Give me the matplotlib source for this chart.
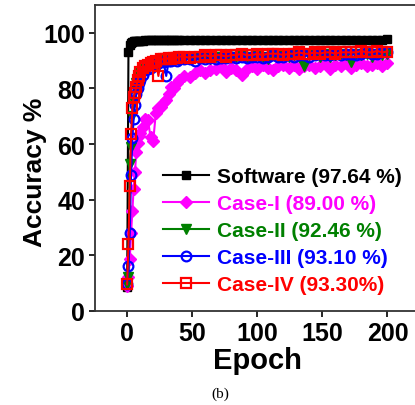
import matplotlib
matplotlib.use("Agg")
import matplotlib.pyplot as plt

epochs = (list(range(0, 11)) + list(range(12, 41, 2)) + list(range(44, 201, 4)))

software = [8.5, 93.0, 95.5, 96.3, 96.7, 96.9, 97.0, 97.1, 97.1, 97.2, 97.2,
            97.2, 97.3, 97.3, 97.3, 97.4, 97.4, 97.4, 97.4, 97.4, 97.5, 97.5, 97.5, 97.5, 97.5, 97.5,
            97.5, 97.5, 97.6, 97.5, 97.6, 97.6, 97.5, 97.6, 97.6, 97.6,
            97.6, 97.5, 97.6, 97.6, 97.6, 97.6, 97.6, 97.5, 97.6, 97.6,
            97.6, 97.6, 97.6, 97.6, 97.5, 97.6, 97.6, 97.6, 97.6, 97.6,
            97.6, 97.6, 97.6, 97.6, 97.6, 97.6, 97.6, 97.6, 97.6, 97.64]

case1 = [9.0, 12.0, 18.5, 28.0, 36.0, 44.0, 50.0, 57.0, 60.5, 63.0, 64.0,
         66.0, 69.0, 68.5, 62.5, 61.0, 71.0, 73.0, 73.5, 75.0, 76.0, 78.0, 80.5, 80.0, 82.0, 83.0,
         84.5, 84.0, 85.5, 86.5, 85.5, 86.5, 87.0, 88.0, 86.0, 87.5,
         86.5, 85.0, 87.0, 88.0, 87.0, 88.5, 87.5, 86.5, 88.0, 88.5,
         87.5, 88.5, 87.0, 88.0, 88.5, 87.5, 88.0, 89.0, 87.0, 88.5,
         88.0, 89.0, 87.5, 88.5, 89.0, 88.0, 88.5, 89.0, 88.0, 89.0]

case2 = [9.5, 12.0, 53.0, 59.0, 70.0, 75.0, 80.0, 82.0, 84.0, 85.0, 86.0,
         87.0, 88.0, 88.5, 89.0, 89.5, 89.0, 90.0, 90.0, 90.5, 90.0, 90.5, 91.0, 90.5, 91.0, 91.0,
         91.0, 90.5, 91.5, 91.0, 91.5, 90.5, 91.5, 91.5, 91.0, 91.5,
         91.5, 92.0, 91.0, 91.5, 92.0, 91.5, 90.5, 92.0, 91.5, 92.0,
         91.5, 92.0, 91.5, 88.0, 92.0, 92.0, 91.5, 92.5, 91.5, 92.0,
         92.5, 92.0, 89.5, 92.5, 92.0, 92.5, 91.5, 92.5, 92.0, 92.46]

case3 = [9.5, 16.0, 28.0, 49.0, 62.0, 69.0, 74.0, 78.0, 80.0, 82.0, 83.0,
         85.0, 86.5, 87.0, 87.5, 88.5, 88.5, 89.0, 89.5, 89.5, 84.5, 90.0, 90.0, 90.5, 90.0, 90.5,
         90.5, 90.5, 90.0, 91.0, 90.5, 91.0, 90.5, 91.0, 91.0, 91.5,
         91.0, 91.5, 91.0, 91.5, 91.5, 91.0, 91.5, 92.0, 91.5, 91.5,
         92.0, 91.5, 92.0, 92.0, 91.5, 92.0, 92.5, 92.0, 92.0, 92.5,
         92.0, 92.5, 92.5, 92.0, 92.5, 93.0, 92.5, 92.5, 93.0, 93.1]

case4 = [9.5, 24.0, 45.0, 63.5, 73.0, 77.0, 78.5, 80.5, 83.0, 84.5, 86.0,
         87.5, 88.0, 88.5, 89.0, 89.5, 90.0, 84.5, 90.5, 90.5, 90.5, 91.0, 90.5, 91.0, 91.0, 91.5,
         91.5, 91.0, 91.5, 91.5, 92.0, 91.5, 92.0, 92.0, 91.5, 92.0,
         92.0, 92.5, 92.0, 92.0, 92.5, 92.0, 92.5, 92.5, 92.5, 92.0,
         92.5, 92.5, 93.0, 92.5, 92.5, 93.0, 92.5, 93.0, 93.0, 92.5,
         93.0, 93.0, 93.0, 93.0, 93.5, 93.0, 93.0, 93.5, 93.0, 93.3]

labels = ["Software (97.64 %)", "Case-I (89.00 %)", "Case-II (92.46 %)",
          "Case-III (93.10 %)", "Case-IV (93.30%)"]
colors = ["black", "#ff00ff", "#008000", "#0000ff", "#ff0000"]

plt.rcParams['font.family'] = ['Liberation Sans', 'DejaVu Sans']
plt.rcParams['font.weight'] = 'bold'

fig = plt.figure(figsize=(4.15, 4.06), dpi=100)
ax = fig.add_axes([0.228, 0.232, 0.784, 0.753])

ax.plot(epochs, software, color=colors[0], marker='s', ms=6, lw=1.5, label=labels[0])
ax.plot(epochs, case1, color=colors[1], marker='D', ms=6, lw=1.5, label=labels[1])
ax.plot(epochs, case2, color=colors[2], marker='v', ms=7, lw=1.5, label=labels[2])
ax.plot(epochs, case3, color=colors[3], marker='o', ms=7, mfc='none', mew=1.6, lw=1.5,
        label=labels[3])
ax.plot(epochs, case4, color=colors[4], marker='s', ms=6.5, mfc='none', mew=1.6, lw=1.5,
        label=labels[4])

ax.set_xlim(-25, 225)
ax.set_ylim(0, 110)
ax.set_xticks([0, 50, 100, 150, 200])
ax.set_yticks([0, 20, 40, 60, 80, 100])
ax.tick_params(labelsize=18, width=1.2, length=4, direction='out', pad=3)
for lbl in ax.get_xticklabels() + ax.get_yticklabels():
    lbl.set_fontweight('bold')
for sp in ax.spines.values():
    sp.set_linewidth(1.3)
    sp.set_color('#333333')

ax.set_xlabel("Epoch", fontsize=21, fontweight='bold', labelpad=1)
ax.set_ylabel("Accuracy %", fontsize=19, fontweight='bold')
ax.yaxis.set_label_coords(-0.1466, 0.457)

leg = ax.legend(loc='upper left', bbox_to_anchor=(163 / 415, 1 - 168 / 406),
                bbox_transform=fig.transFigure, frameon=False,
                fontsize=15, handlelength=2.2, handletextpad=0.4, labelspacing=0.39,
                borderaxespad=0, borderpad=0)
for txt, c in zip(leg.get_texts(), colors):
    txt.set_color(c)
    txt.set_fontweight('bold')

fig.text(220 / 415, 1 - 394 / 406, "(b)", fontsize=11,
         family=['Liberation Serif', 'DejaVu Serif'], fontweight='normal',
         ha='center', va='center')

fig.savefig("out.png", dpi=100)
